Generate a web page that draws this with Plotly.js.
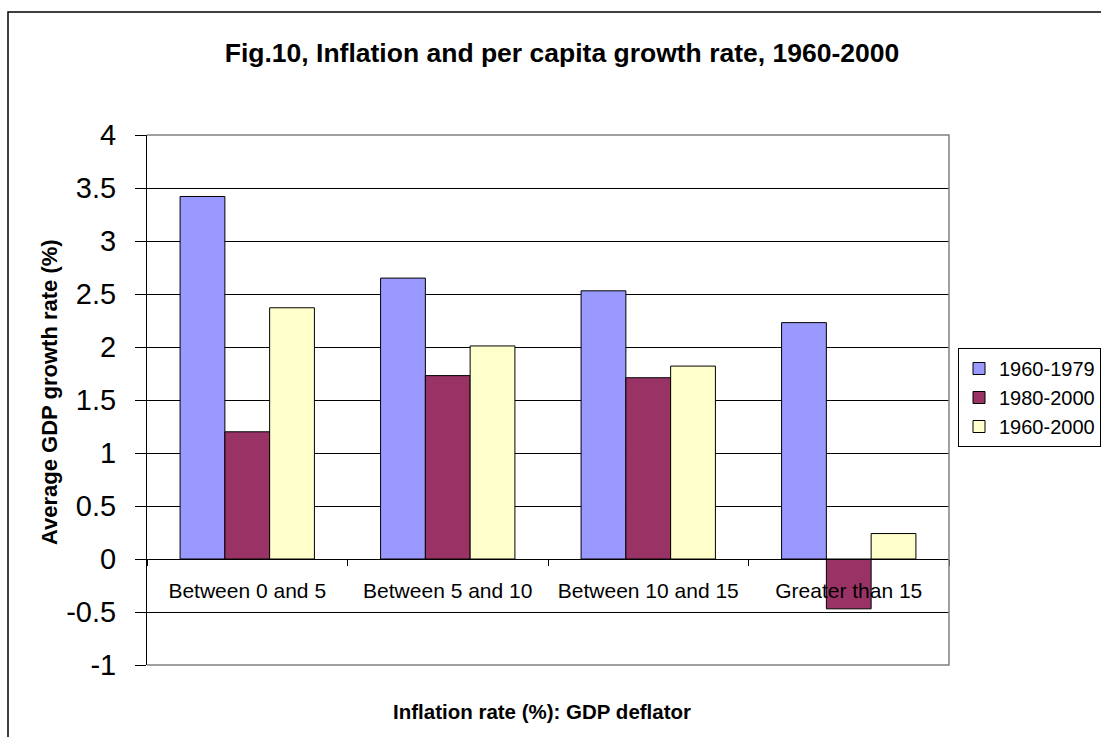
<!DOCTYPE html>
<html>
<head>
<meta charset="utf-8">
<script src="https://cdn.plot.ly/plotly-3.0.1.min.js"></script>
<style>
html,body{margin:0;padding:0;background:#fff;}
#chart{width:1101px;height:737px;}
</style>
</head>
<body>
<div id="chart"></div>
<script>
// ---- data ----
var categories = ['Between 0 and 5', 'Between 5 and 10', 'Between 10 and 15', 'Greater than 15'];
var seriesNames = ['1960-1979', '1980-2000', '1960-2000'];
var growth1960_1979 = [3.42, 2.65, 2.53, 2.23];
var growth1980_2000 = [1.20, 1.73, 1.71, -0.47];
var growth1960_2000 = [2.37, 2.01, 1.82, 0.24];
var yTickValues = [-1, -0.5, 0, 0.5, 1, 1.5, 2, 2.5, 3, 3.5, 4];
var yTickLabels = ['-1', '-0.5', '0', '0.5', '1', '1.5', '2', '2.5', '3', '3.5', '4'];
var chartTitle = 'Fig.10, Inflation and per capita growth rate, 1960-2000';
var xTitle = 'Inflation rate (%): GDP deflator';
var yTitle = 'Average GDP growth rate (%)';

// ---- style ----
var FONT = 'Liberation Sans, Arial, sans-serif';
var colors = ['#9999FF', '#993366', '#FFFFCC'];
var values = [growth1960_1979, growth1980_2000, growth1960_2000];

var traces = values.map(function (v, i) {
  return {
    type: 'bar',
    name: seriesNames[i],
    legendgroup: 'g' + i,
    x: categories,
    y: v,
    marker: { color: colors[i], line: { color: '#000', width: 1 } },
    hoverinfo: 'skip'
  };
});

var layout = {
  width: 1101,
  height: 737,
  margin: { l: 147, r: 152, t: 135, b: 72, autoexpand: false },
  paper_bgcolor: '#fff',
  plot_bgcolor: '#fff',
  font: { family: FONT, color: '#000' },
  barmode: 'group',
  bargap: 0.33,
  bargroupgap: 0,
  showlegend: true,
  title: {
    text: chartTitle,
    font: { family: FONT, size: 26.5, weight: 700, color: '#000' },
    xref: 'container', x: 562 / 1101, xanchor: 'center',
    yref: 'container', y: 1 - 53 / 737, yanchor: 'middle'
  },
  xaxis: {
    type: 'category',
    anchor: 'free',
    position: 0.2,
    showline: true, linecolor: '#000', linewidth: 1,
    showgrid: false, zeroline: false,
    ticks: 'outside', tickson: 'boundaries', ticklen: 6, tickcolor: '#000', tickwidth: 1,
    ticklabelstandoff: 13,
    tickfont: { family: FONT, size: 21, color: '#000' },
    automargin: false,
    fixedrange: true
  },
  yaxis: {
    range: [-1, 4],
    tickmode: 'array',
    tickvals: yTickValues,
    ticktext: yTickLabels,
    showline: true, linecolor: '#000', linewidth: 1,
    showgrid: true, gridcolor: '#000', gridwidth: 1,
    zeroline: false,
    ticks: 'outside', ticklen: 11, tickcolor: '#000', tickwidth: 1,
    ticklabelstandoff: 13,
    tickfont: { family: FONT, size: 29, color: '#000' },
    automargin: false,
    fixedrange: true
  },
  legend: {
    x: (958 - 147) / 802, xanchor: 'left', xref: 'paper',
    y: (665 - 348) / 530, yanchor: 'top', yref: 'paper',
    bgcolor: '#fff', bordercolor: '#000', borderwidth: 1,
    font: { family: FONT, size: 20, color: '#000' },
    traceorder: 'normal',
    tracegroupgap: 3,
    itemwidth: 30
  },
  annotations: [
    {
      text: '<b>' + xTitle + '</b>',
      xref: 'paper', yref: 'paper',
      x: (542 - 147) / 802, y: (665 - 711) / 530,
      xanchor: 'center', yanchor: 'middle',
      showarrow: false,
      font: { family: FONT, size: 20.5, color: '#000' }
    },
    {
      text: '<b>' + yTitle + '</b>',
      xref: 'paper', yref: 'paper',
      x: (49 - 147) / 802, y: (665 - 392) / 530,
      xanchor: 'center', yanchor: 'middle',
      textangle: -90,
      showarrow: false,
      font: { family: FONT, size: 22, color: '#000' }
    }
  ],
  shapes: [
    // plot area border (gray) top, right, bottom
    {
      type: 'path', xref: 'paper', yref: 'paper', layer: 'above',
      path: 'M0,1 L1,1 L1,0 L0,0',
      line: { color: '#808080', width: 1.5 }
    },
    // outer chart frame (left and top edges visible)
    {
      type: 'path', xref: 'paper', yref: 'paper', layer: 'above',
      path: 'M' + ((8 - 147) / 802) + ',' + ((665 - 760) / 530) +
            ' L' + ((8 - 147) / 802) + ',' + ((665 - 12) / 530) +
            ' L' + ((1120 - 147) / 802) + ',' + ((665 - 12) / 530),
      line: { color: '#000', width: 1.5 }
    }
  ]
};

Plotly.newPlot('chart', traces, layout, { displayModeBar: false, staticPlot: true, responsive: false });
</script>
</body>
</html>
